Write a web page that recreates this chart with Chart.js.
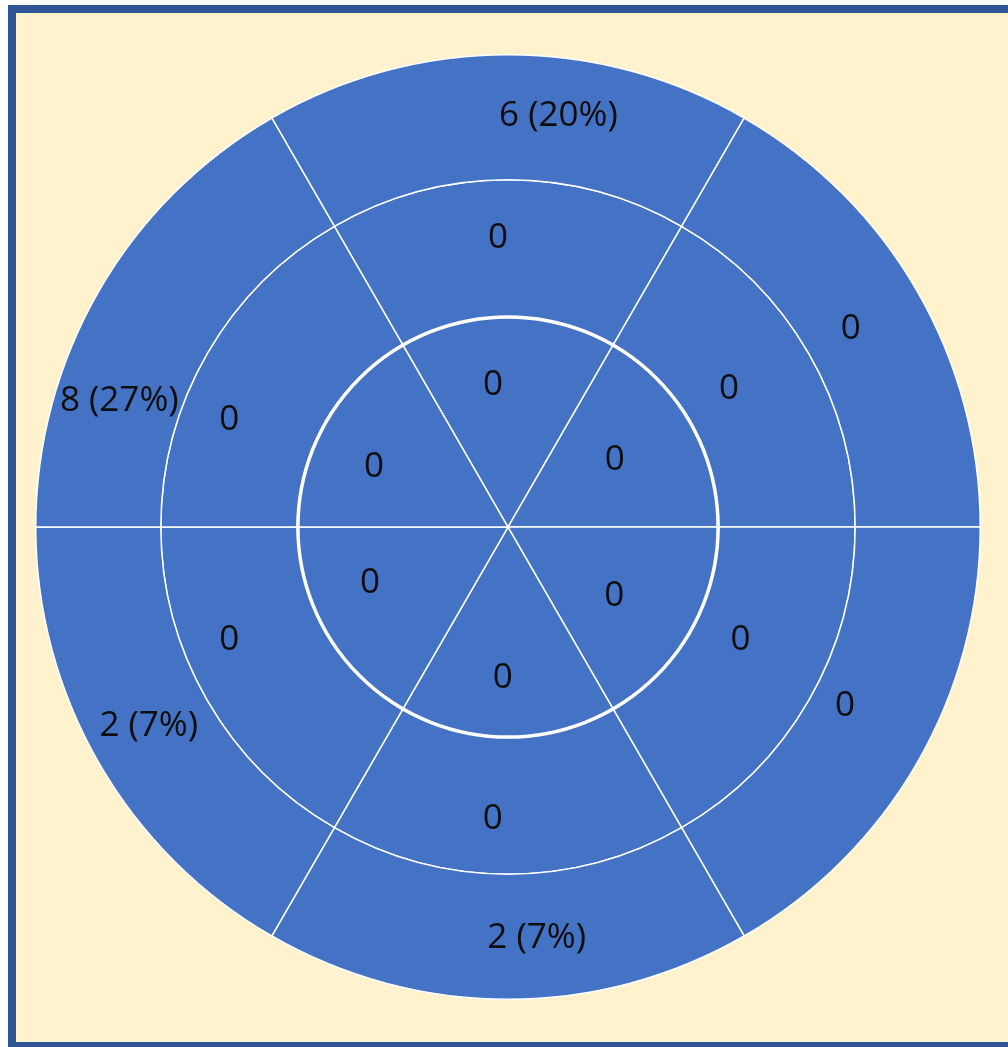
<!DOCTYPE html>
<html>
<head>
<meta charset="utf-8">
<script src="https://cdn.jsdelivr.net/npm/chart.js@4.4.1/dist/chart.umd.min.js"></script>
<style>
  html, body { margin: 0; padding: 0; background: #ffffff; overflow: hidden; }
  #frame {
    position: absolute; left: 8px; top: 5px;
    width: 1010px; height: 1029px;
    border: 8px solid #2F5597;
    background: #FFF2CC;
  }
  #wrap { position: absolute; left: 35px; top: 54px; width: 946px; height: 946px; }
</style>
</head>
<body>
<div id="frame"></div>
<div id="wrap"><canvas id="c" width="946" height="946"></canvas></div>
<script>
// Six sectors, clockwise from the top
const sectors = ['Top', 'Upper right', 'Lower right', 'Bottom', 'Lower left', 'Upper left'];

// Counts per ring (outer, middle, inner)
const outerCounts  = [6, 0, 0, 2, 2, 8];
const middleCounts = [0, 0, 0, 0, 0, 0];
const innerCounts  = [0, 0, 0, 0, 0, 0];
const totalCount = 30;

// Relative ring thickness (outer, middle, inner)
const ringWeights = [125, 137, 210];

// Small shifts of the labels inside their sectors: angle (degrees) and radius (px)
const labelAngleNudge = [
  [7, 0, -2, -4, 1, -12],
  [-2, -2, -4, 3, 8, -9],
  [-6, -2, 3, 2, 8, -6]
];
const labelRadiusNudge = [
  [4, -14, -28, 2, 1, -1],
  [10, -18, -20, 14, 22, 20],
  [2, -15, -14, 10, 8, 6]
];

function fmt(c) {
  return c > 0 ? c + ' (' + Math.round(c / totalCount * 100) + '%)' : String(c);
}

const BLUE = '#4472C4';

const rings = [outerCounts, middleCounts, innerCounts].map((counts, i) => ({
  label: ['outer', 'middle', 'inner'][i],
  data: sectors.map(() => 1),
  counts: counts,
  weight: ringWeights[i],
  backgroundColor: BLUE,
  borderColor: '#ffffff',
  borderWidth: 1.5
}));

// Thicker circle round the inner disc, then the sector labels
const bullseyeLabels = {
  id: 'bullseyeLabels',
  afterDatasetsDraw(chart) {
    const ctx = chart.ctx;
    const innerMeta = chart.getDatasetMeta(2);
    const a0 = innerMeta.data[0];
    if (a0) {
      const p = a0.getProps(['x', 'y', 'outerRadius'], true);
      ctx.save();
      ctx.beginPath();
      ctx.arc(p.x, p.y, p.outerRadius, 0, Math.PI * 2);
      ctx.strokeStyle = '#ffffff';
      ctx.lineWidth = 3.5;
      ctx.stroke();
      ctx.restore();
    }
    ctx.save();
    ctx.font = '35px "Open Sans", sans-serif';
    ctx.fillStyle = '#0d0d0d';
    ctx.textAlign = 'center';
    ctx.textBaseline = 'middle';
    chart.data.datasets.forEach((ds, di) => {
      const meta = chart.getDatasetMeta(di);
      meta.data.forEach((arc, i) => {
        const p = arc.getProps(['x', 'y', 'startAngle', 'endAngle', 'innerRadius', 'outerRadius'], true);
        const mid = (p.startAngle + p.endAngle) / 2 + labelAngleNudge[di][i] * Math.PI / 180;
        const base = p.innerRadius === 0 ? p.outerRadius * 0.67 : (p.innerRadius + p.outerRadius) / 2;
        const r = base + labelRadiusNudge[di][i];
        ctx.fillText(fmt(ds.counts[i]), p.x + r * Math.cos(mid), p.y + r * Math.sin(mid));
      });
    });
    ctx.restore();
  }
};

new Chart(document.getElementById('c'), {
  type: 'doughnut',
  data: { labels: sectors, datasets: rings },
  options: {
    responsive: false,
    animation: false,
    rotation: -30,
    cutout: 0,
    layout: { padding: 0 },
    plugins: { legend: { display: false }, tooltip: { enabled: false } }
  },
  plugins: [bullseyeLabels]
});
</script>
</body>
</html>
